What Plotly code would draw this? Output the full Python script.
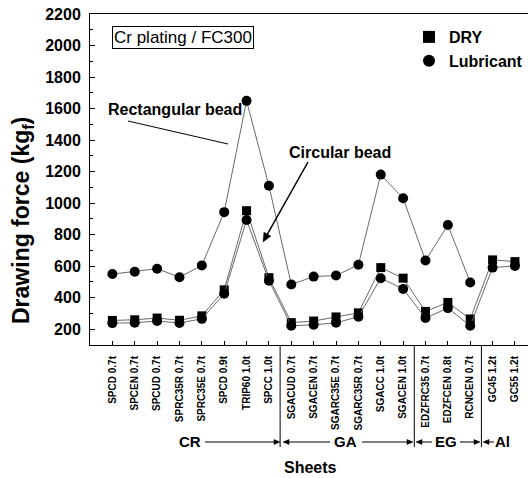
import math
import plotly.graph_objects as go

categories = ["SPCD 0.7t", "SPCEN 0.7t", "SPCUD 0.7t", "SPRC35R 0.7t", "SPRC35E 0.7t",
              "SPCD 0.9t", "TRIP60 1.0t", "SPCC 1.0t", "SGACUD 0.7t", "SGACEN 0.7t",
              "SGARC35E 0.7t", "SGARC35R 0.7t", "SGACC 1.0t", "SGACEN 1.0t",
              "EDZFRC35 0.7t", "EDZFCEN 0.8t", "RCNCEN 0.7t", "GC45 1.2t", "GC55 1.2t"]

# Rectangular bead, lubricant (upper curve)
rect_lub = [550, 565, 584, 530, 605, 943, 1649, 1110, 484, 534, 541, 609, 1181, 1031, 636, 861, 497]
# Circular bead, dry (squares)
circ_dry = [256, 260, 271, 257, 285, 450, 952, 527, 242, 252, 278, 304, 591, 524, 313, 370, 265, 640, 629]
# Circular bead, lubricant (circles)
circ_lub = [239, 241, 252, 240, 266, 425, 893, 508, 222, 228, 241, 279, 524, 456, 271, 334, 222, 591, 602]

groups = ["CR", "GA", "EG", "Al"]
group_bounds = [7.5, 13.5, 16.5]

y_ticks = list(range(200, 2201, 200))

FONT = "Liberation Sans, Arial, sans-serif"
L, R, T, B = 90, 0, 14, 133
W, H = 528, 478
PW, PH = W - L - R, H - T - B


def px(x):
    return (x - L) / PW


def py(y):
    return (H - B - y) / PH


fig = go.Figure()
xs = list(range(len(categories)))
line_col = "#6a6a6a"

fig.add_trace(go.Scatter(x=xs[:len(rect_lub)], y=rect_lub, mode="lines+markers",
                         line=dict(color=line_col, width=1),
                         marker=dict(symbol="circle", size=10, color="black"),
                         showlegend=False))
fig.add_trace(go.Scatter(x=xs, y=circ_dry, mode="lines+markers",
                         line=dict(color=line_col, width=1),
                         marker=dict(symbol="square", size=9, color="black"),
                         showlegend=False))
fig.add_trace(go.Scatter(x=xs, y=circ_lub, mode="lines+markers",
                         line=dict(color=line_col, width=1),
                         marker=dict(symbol="circle", size=10, color="black"),
                         showlegend=False))
# legend entries (markers only)
fig.add_trace(go.Scatter(x=[None], y=[None], mode="markers", name="DRY",
                         marker=dict(symbol="square", size=9, color="black")))
fig.add_trace(go.Scatter(x=[None], y=[None], mode="markers", name="Lubricant",
                         marker=dict(symbol="circle", size=10, color="black")))

fig.update_layout(
    width=W, height=H,
    margin=dict(l=L, r=R, t=T, b=B, pad=0),
    paper_bgcolor="white", plot_bgcolor="white",
    font=dict(family=FONT, color="black"),
    legend=dict(x=px(409), y=py(20), xanchor="left", yanchor="top",
                bgcolor="rgba(0,0,0,0)", font=dict(size=16, weight="bold", color="black"),
                itemsizing="constant", tracegroupgap=0),
    showlegend=True,
)

fig.update_xaxes(
    range=[-1, (W - 112.3) / 22.37], tickmode="array", tickvals=xs, ticktext=categories,
    tickangle=-90, tickfont=dict(size=10, weight="bold", color="black"), ticks="inside", ticklen=4,
    tickcolor="black", showline=True, linecolor="black", linewidth=1, mirror=True,
    showgrid=False, zeroline=False, ticklabelstandoff=6,
)
fig.update_yaxes(
    range=[100, 2200], tickmode="array", tickvals=y_ticks, ticktext=[str(v) for v in y_ticks],
    tickfont=dict(size=16, weight="bold", color="black"), ticks="inside", ticklen=5, tickcolor="black",
    minor=dict(ticks="inside", ticklen=3, dtick=100, tick0=100, tickcolor="black", showgrid=False),
    showline=True, linecolor="black", linewidth=1, mirror=False,
    showgrid=False, zeroline=False, ticklabelstandoff=5,
)

ann = []
shapes = []


def label(x, y, text, size, weight="bold", angle=0, **kw):
    d = dict(x=px(x), y=py(y), xref="paper", yref="paper", showarrow=False,
             xanchor="center", yanchor="middle", text=text, textangle=angle,
             font=dict(size=size, weight=weight, color="black"))
    d.update(kw)
    return d


def arrow_shapes(x0, y0, x1, y1, hl=7, hw=3, width=1.0):
    # line from pixel (x0, y0) to pixel (x1, y1) with a filled head at (x1, y1)
    dx, dy = x1 - x0, y1 - y0
    n = math.hypot(dx, dy)
    ux, uy = dx / n, dy / n
    bx, by = x1 - ux * hl, y1 - uy * hl
    p1 = (bx - uy * hw, by + ux * hw)
    p2 = (bx + uy * hw, by - ux * hw)
    out = [dict(type="line", xref="paper", yref="paper", x0=px(x0), y0=py(y0),
                x1=px(bx), y1=py(by), line=dict(color="black", width=width))]
    path = "M {:.5f},{:.5f} L {:.5f},{:.5f} L {:.5f},{:.5f} Z".format(
        px(x1), py(y1), px(p1[0]), py(p1[1]), px(p2[0]), py(p2[1]))
    out.append(dict(type="path", xref="paper", yref="paper", path=path,
                    fillcolor="black", line=dict(color="black", width=0.5)))
    return out


# axis titles
ann.append(label(22, 221, "Drawing force (kg<sub>f</sub>)", 23, angle=-90))
ann.append(label(310, 467, "Sheets", 16))
# info box
ann.append(label(182.5, 37.5, "Cr plating / FC300", 17, weight="normal",
                 bordercolor="black", borderwidth=1, borderpad=1))
# bead labels
ann.append(label(175, 109, "Rectangular bead", 16))
shapes.append(dict(type="line", xref="paper", yref="paper", x0=px(128), y0=py(121),
                   x1=px(228), y1=py(144), line=dict(color="black", width=1)))
ann.append(label(340, 152, "Circular bead", 16))
shapes += arrow_shapes(308, 162, 263, 242, hl=9, hw=4, width=1.5)

# group separators
for gb in group_bounds:
    shapes.append(dict(type="line", xref="x", yref="paper", x0=gb, x1=gb,
                       y0=0, y1=py(447), line=dict(color="black", width=1)))

# group labels and arrows
gy = 441
group_pos = [190, 345, 446, 502]
for g, gx in zip(groups, group_pos):
    ann.append(label(gx, gy, g, 15))
arrows = [(205, 280), (330, 283), (362, 413), (432, 416), (460, 480), (494, 483)]
for a0, a1 in arrows:
    shapes += arrow_shapes(a0, gy + 1, a1, gy + 1, hl=6, hw=2.5, width=1)

fig.update_layout(annotations=ann, shapes=shapes)
fig.write_html("out.html")
